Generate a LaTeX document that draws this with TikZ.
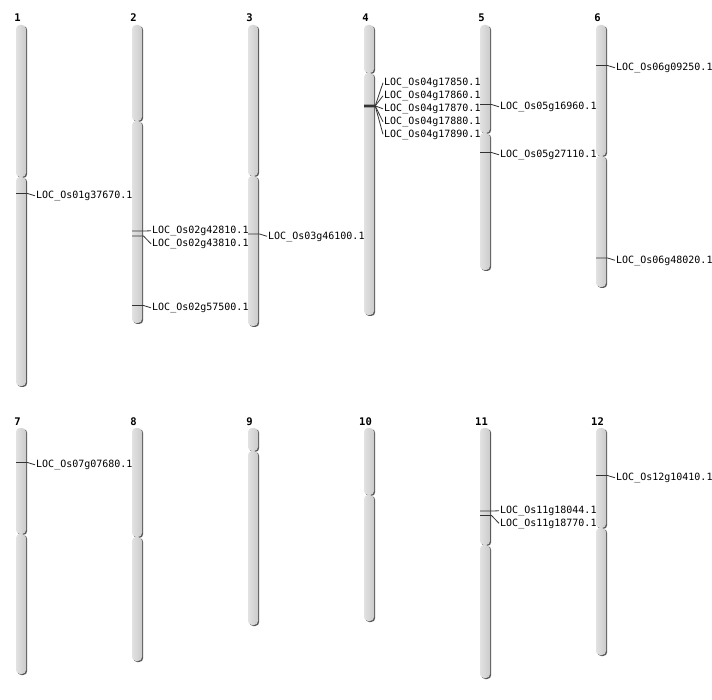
\documentclass[tikz,border=0pt]{standalone}
\usepackage{fontspec}
\setmainfont{DejaVu Sans}
\newfontfamily\monof{DejaVu Sans Mono}
\newfontfamily\monobf{DejaVu Sans Mono Bold}
\definecolor{chrshadow}{HTML}{5A5A5A}
\definecolor{chrlight}{HTML}{E2E2E2}
\definecolor{chrdark}{HTML}{CBCBCB}
\tikzset{
  armshadow/.style={fill=chrshadow,rounded corners=4pt},
  armbody/.style={left color=chrlight,right color=chrdark,rounded corners=4pt},
  numlab/.style={font=\fontsize{10.5}{11}\selectfont\monobf,anchor=base,inner sep=0pt},
  genelab/.style={font=\fontsize{10}{11}\selectfont\monof,anchor=west,inner sep=1pt,text height=7pt,text depth=1.5pt},
  link/.style={draw=black!80,line width=0.8pt},
}
% #1 name, #2 x-left, #3 top, #4 centromere, #5 bottom, #6 number
\newcommand\chromdraw[6]{%
  \foreach \ya/\yb in {#3/#4,#4/#5}{%
    \fill[armshadow] ({#2+1.2},{\ya+1}) rectangle ({#2+11.2},{\yb+1});
    \shade[armbody] (#2,\ya) rectangle ({#2+10},\yb);
  }
  \node[numlab] (#1) at ({#2+1.5},{#3-3}) {#6};
}
% #1 name, #2 x-left, #3 marker y, #4 label y, #5 text
\newcommand\genemark[5]{%
  \coordinate (#1m) at (#2,#3);
  \node[genelab] (#1) at ({#2+19},{#4+1.3}) {#5};
  \draw[link] (#1m) -- ++(11.5,0) -- (#1.west);
}
\begin{document}
\begin{tikzpicture}[x=1pt,y=-1pt]
\useasboundingbox[fill=white] (0,0) rectangle (712,700);
% row 1
\chromdraw{c1}{16}{25}{177}{386}{1}
\chromdraw{c2}{132}{25}{121}{323}{2}
\chromdraw{c3}{248}{25}{176}{326}{3}
\chromdraw{c4}{364}{25}{73}{315}{4}
\chromdraw{c5}{480}{25}{133}{270}{5}
\chromdraw{c6}{596}{25}{156}{287}{6}
% row 2
\chromdraw{c7}{16}{428}{534}{674}{7}
\chromdraw{c8}{132}{428}{537}{661}{8}
\chromdraw{c9}{248}{428}{451}{625}{9}
\chromdraw{c10}{364}{428}{495}{621}{10}
\chromdraw{c11}{480}{428}{545}{678}{11}
\chromdraw{c12}{596}{428}{528}{655}{12}
% genes
\genemark{g1a}{16}{193.5}{194.5}{LOC\_Os01g37670.1}
\genemark{g2a}{132}{231}{229.5}{LOC\_Os02g42810.1}
\genemark{g2b}{132}{236}{242.5}{LOC\_Os02g43810.1}
\genemark{g2c}{132}{305.5}{306.5}{LOC\_Os02g57500.1}
\genemark{g3a}{248}{234}{235}{LOC\_Os03g46100.1}
\genemark{g4a}{364}{105}{81.5}{LOC\_Os04g17850.1}
\genemark{g4b}{364}{105.5}{94.5}{LOC\_Os04g17860.1}
\genemark{g4c}{364}{106}{107.5}{LOC\_Os04g17870.1}
\genemark{g4d}{364}{106.5}{120.5}{LOC\_Os04g17880.1}
\genemark{g4e}{364}{107}{133}{LOC\_Os04g17890.1}
\genemark{g5a}{480}{104.5}{105.5}{LOC\_Os05g16960.1}
\genemark{g5b}{480}{152.5}{153.5}{LOC\_Os05g27110.1}
\genemark{g6a}{596}{65.5}{66.5}{LOC\_Os06g09250.1}
\genemark{g6b}{596}{258}{259}{LOC\_Os06g48020.1}
\genemark{g7a}{16}{462.5}{463.5}{LOC\_Os07g07680.1}
\genemark{g11a}{480}{511}{509.5}{LOC\_Os11g18044.1}
\genemark{g11b}{480}{515.5}{522}{LOC\_Os11g18770.1}
\genemark{g12a}{596}{475.5}{476.5}{LOC\_Os12g10410.1}
\end{tikzpicture}
\end{document}
